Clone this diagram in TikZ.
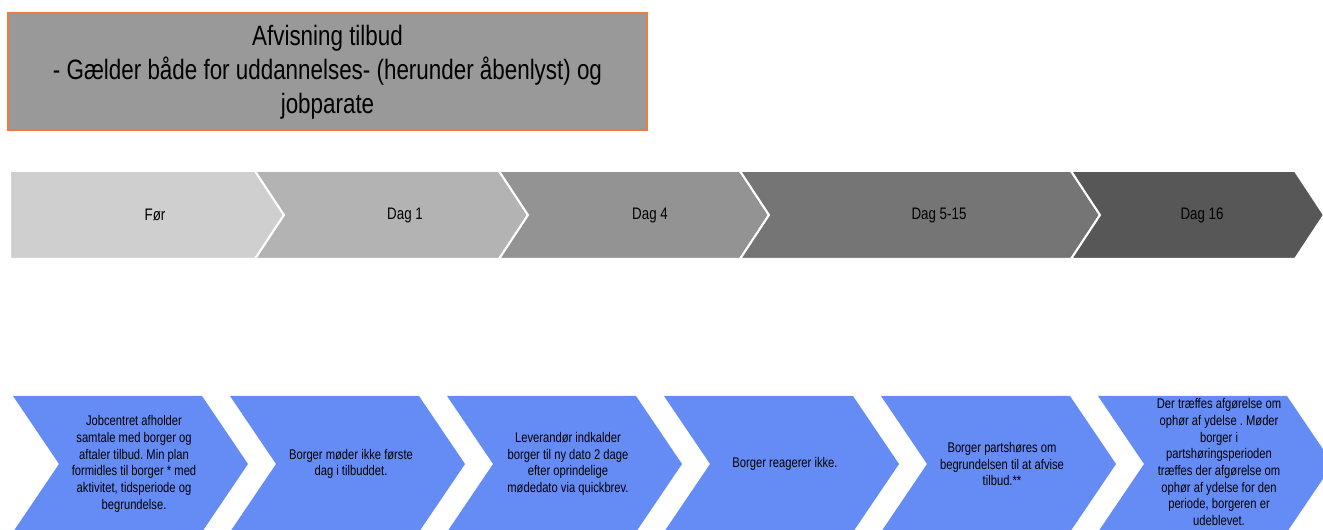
\documentclass[tikz,border=0pt]{standalone}
\usepackage{fontspec}
\setmainfont[FakeStretch=0.8]{Liberation Sans}
\usepackage{tikz}

\definecolor{titelgraa}{HTML}{999999}
\definecolor{titelkant}{HTML}{F4793B}
\definecolor{trinblaa}{HTML}{658CF5}
\definecolor{fase1}{HTML}{CFCFCF}
\definecolor{fase2}{HTML}{B3B3B3}
\definecolor{fase3}{HTML}{939393}
\definecolor{fase4}{HTML}{757575}
\definecolor{fase5}{HTML}{575757}

\begin{document}
\frenchspacing
\begin{tikzpicture}[x=0.75pt,y=-0.75pt,
		fase/.style={font=\fontsize{12.5}{15}\selectfont},
		trin/.style={align=center,font=\fontsize{10.5}{12.5}\selectfont}]
		\useasboundingbox (0,0) rectangle (1323,530);
		
		\draw[titelkant,fill=titelgraa,line width=1.2pt] (8,13) rectangle (647,130);
		\node[align=center,font=\fontsize{21}{25.5}\selectfont] (titel) at (327.5,72) {Afvisning tilbud\\- Gælder både for uddannelses- (herunder åbenlyst) og\\jobparate};
		
		\draw[white,line width=1.5pt,fill=fase1] (10,171) -- (255,171) -- (284,215) -- (255,259) -- (10,259) -- cycle;
		\foreach \a/\b/\f in {255/499/fase2,499/740/fase3,740/1071/fase4,1071/1295/fase5}
			\draw[white,line width=1.5pt,fill=\f] (\a,171) -- (\b,171) -- (\b+29,215) -- (\b,259) -- (\a,259) -- (\a+29,215) -- cycle;
		\node[fase] (foer) at (155,215) {Før};
		\node[fase] (dag1) at (405,215) {Dag 1};
		\node[fase] (dag4) at (650,215) {Dag 4};
		\node[fase] (dag5) at (939,215) {Dag 5-15};
		\node[fase] (dag16) at (1202,215) {Dag 16};
		
		\foreach \i in {0,...,5}
			\fill[trinblaa] ({13+217*\i},396) -- ++(189,0) -- ++(46,68) -- ++(-46,68) -- ++(-189,0) -- ++(46,-68) -- cycle;
		\node[trin] (trin1) at (134,464) {Jobcentret afholder\\samtale med borger og\\aftaler tilbud. Min plan\\formidles til borger * med\\aktivitet, tidsperiode og\\begrundelse.};
		\node[trin] (trin2) at (351,464) {Borger møder ikke første\\dag i tilbuddet.};
		\node[trin] (trin3) at (568,464) {Leverandør indkalder\\borger til ny dato 2 dage\\efter oprindelige\\mødedato via quickbrev.};
		\node[trin] (trin4) at (785,464) {Borger reagerer ikke.};
		\node[trin] (trin5) at (1002,464) {Borger partshøres om\\begrundelsen til at afvise\\tilbud.**};
		\node[trin] (trin6) at (1219,462) {Der træffes afgørelse om\\ophør af ydelse . Møder\\borger i\\partshøringsperioden\\træffes der afgørelse om\\ophør af ydelse for den\\periode, borgeren er\\udeblevet.};
		
		\end{tikzpicture}
\end{document}
